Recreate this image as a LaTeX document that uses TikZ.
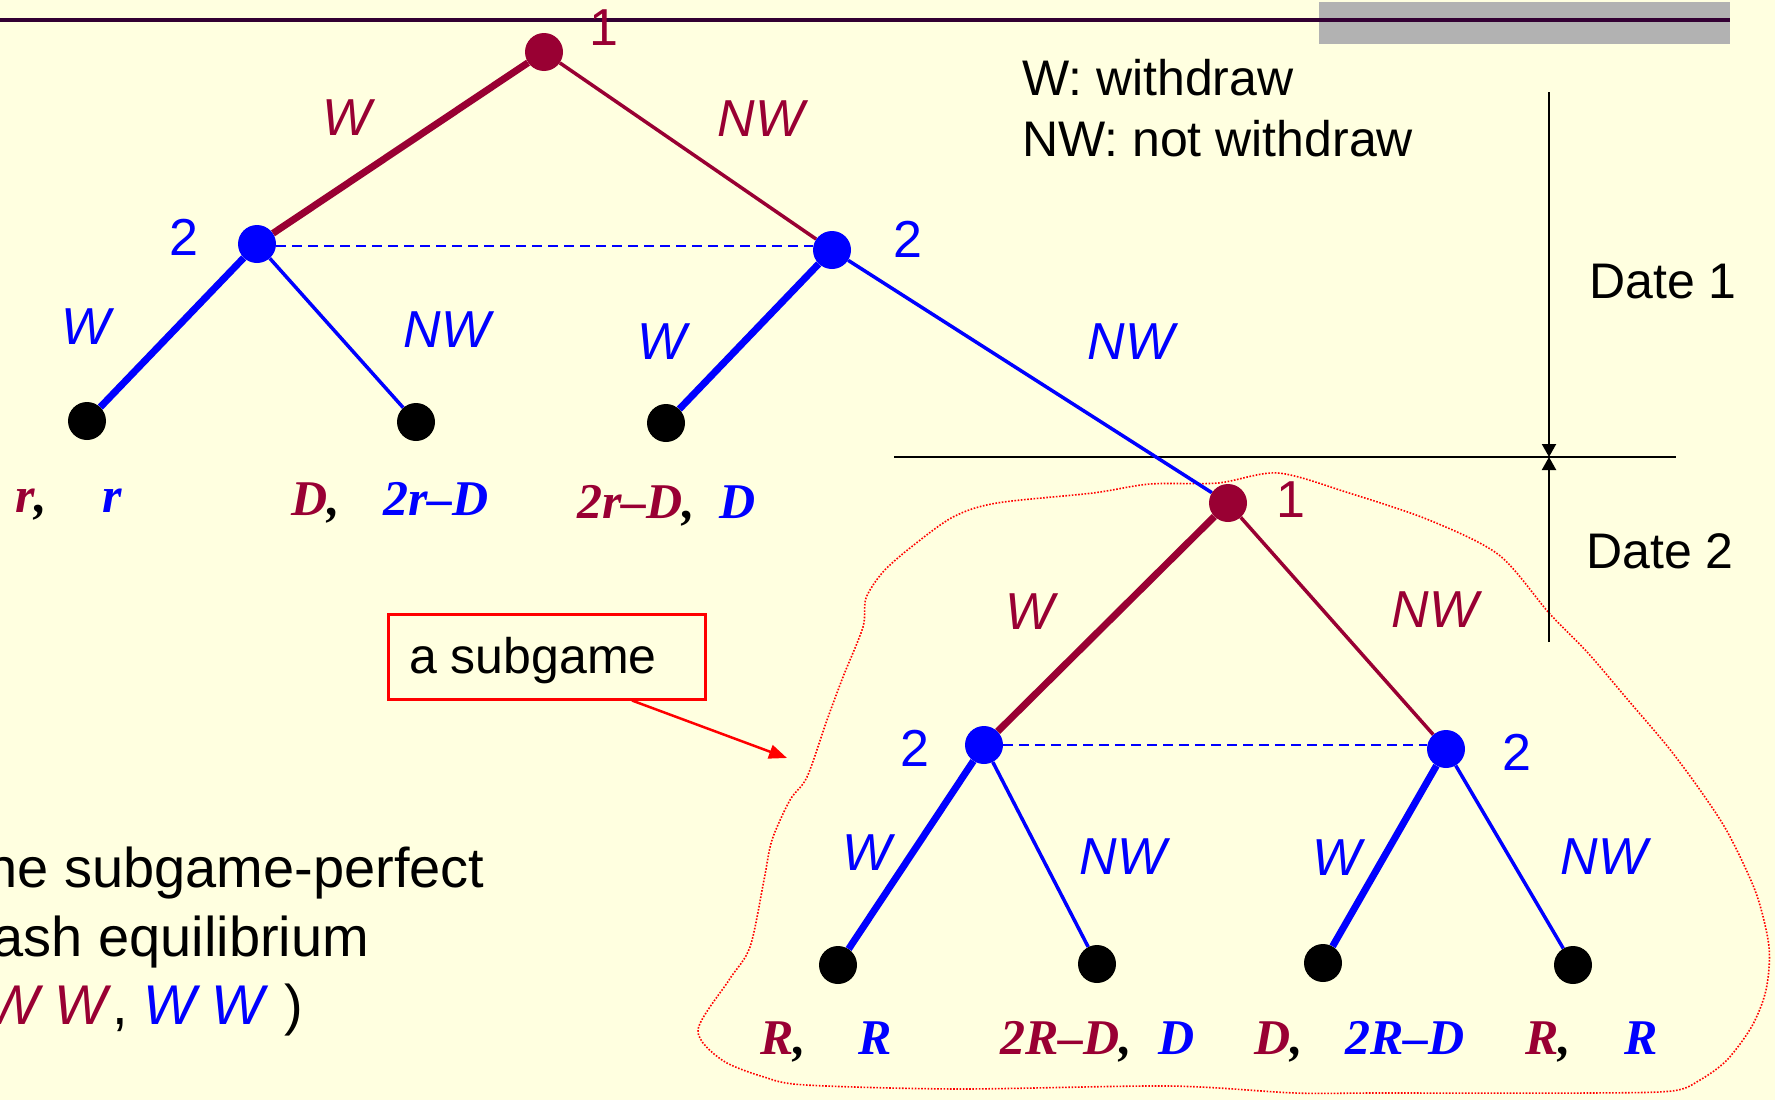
\documentclass[tikz,border=0pt]{standalone}
\usepackage{fontspec}
\setmainfont{Liberation Sans}
\newfontfamily\payfont{Liberation Serif}
\usetikzlibrary{arrows.meta}
\definecolor{bgc}{RGB}{255,255,224}
\definecolor{pone}{RGB}{153,0,51}
\definecolor{ptwo}{RGB}{0,0,255}
\definecolor{topline}{RGB}{51,0,51}
\definecolor{greybar}{RGB}{178,178,178}
\pgfdeclarelayer{bglayer}
\pgfdeclarelayer{edgelayer}
\pgfsetlayers{bglayer,edgelayer,main}
\begin{document}
\begin{tikzpicture}[x=1pt,y=-1pt,
  dec/.style={circle,inner sep=0pt,minimum size=38pt},
  p1node/.style={dec,fill=pone},
  p2node/.style={dec,fill=ptwo},
  leaf/.style={dec,fill=black},
  thickedge/.style={line width=7pt},
  thinedge/.style={line width=3.5pt},
  lab/.style={font=\fontsize{52}{60}\selectfont,inner sep=0pt},
  act/.style={font=\fontsize{52}{60}\selectfont\itshape,inner sep=0pt},
  pay/.style={font=\fontsize{50}{60}\selectfont\payfont\bfseries\itshape,inner sep=0pt,anchor=base west},
  txt/.style={font=\fontsize{50}{60}\selectfont,inner sep=0pt,anchor=base west},
  bigtxt/.style={font=\fontsize{56}{66}\selectfont,inner sep=0pt,anchor=base west},
  infoset/.style={ptwo,line width=2.5pt,dash pattern=on 10pt off 6pt},
  dateline/.style={black,line width=2pt},
  datetip/.style={-{Triangle[length=13pt,width=14pt]}},
]
\useasboundingbox (0,0) rectangle (1775,1100);

% background, grey bar, top rule
\begin{pgfonlayer}{bglayer}
\fill[bgc] (0,0) rectangle (1775,1100);
\fill[greybar] (1319,2) rectangle (1730,44);
\coordinate (tl) at (0,20);
\coordinate (tr) at (1730,20);
\draw[topline,line width=4pt] (tl) -- (tr);
\end{pgfonlayer}

% decision nodes and leaves
\node[p1node] (r1) at (544,52) {};
\node[p2node] (a2) at (257,244) {};
\node[p2node] (b2) at (832,250) {};
\node[leaf] (l1) at (87,421) {};
\node[leaf] (l2) at (416,422) {};
\node[leaf] (l3) at (666,423) {};
\node[p1node] (s1) at (1228,503) {};
\node[p2node] (c2) at (984,745) {};
\node[p2node] (d2) at (1446,749) {};
\node[leaf] (m1) at (838,965) {};
\node[leaf] (m2) at (1097,964) {};
\node[leaf] (m3) at (1323,963) {};
\node[leaf] (m4) at (1573,965) {};

\begin{pgfonlayer}{edgelayer}
% subgame outline
\draw[red,line width=1.6pt,dash pattern=on 1.6pt off 1.6pt]
  plot[smooth cycle,tension=0.5] coordinates {
  (1218,483) (1278,473) (1349,493) (1429,520) (1499,555) (1549,613)
  (1588,653) (1628,700) (1668,747) (1700,790) (1728,833) (1756,893)
  (1769,947) (1766,990) (1752,1026) (1727,1060) (1700,1080) (1672,1091)
  (1588,1093) (1378,1093) (1295,1093) (1169,1086) (959,1089) (806,1085)
  (764,1077) (722,1060) (698,1030) (729,980) (750,947) (764,880)
  (772,840) (790,800) (807,777) (827,720) (843,677) (863,627)
  (866,598) (883,572) (910,548) (953,517) (997,503) (1093,493) (1150,484)};
% date markers
\coordinate (dtop) at (1549,92);
\coordinate (dmid) at (1549,457);
\coordinate (dbot) at (1549,642);
\coordinate (hl) at (894,457);
\coordinate (hr) at (1676,457);
\draw[dateline,datetip] (dtop) -- (dmid);
\draw[dateline,datetip] (dbot) -- (dmid);
\draw[black,line width=2.5pt] (hl) -- (hr);
% edges
\draw[pone,thickedge] (r1) -- (a2);
\draw[pone,thinedge] (r1) -- (b2);
\draw[ptwo,thickedge] (a2) -- (l1);
\draw[ptwo,thinedge] (a2) -- (l2);
\draw[ptwo,thickedge] (b2) -- (l3);
\draw[ptwo,thinedge] (b2) -- (s1);
\draw[pone,thickedge] (s1) -- (c2);
\draw[pone,thinedge] (s1) -- (d2);
\draw[ptwo,thickedge] (c2) -- (m1);
\draw[ptwo,thinedge] (c2) -- (m2);
\draw[ptwo,thickedge] (d2) -- (m3);
\draw[ptwo,thinedge] (d2) -- (m4);
% information sets
\draw[infoset] ([yshift=-2pt]a2.east) -- ([yshift=-2pt]a2.east -| b2.west);
\draw[infoset] (c2.east) -- (c2.east -| d2.west);
\end{pgfonlayer}

% player labels
\node[lab,pone] (lr1) at (604,28) {1};
\node[lab,ptwo] (la2) at (184,237) {2};
\node[lab,ptwo] (lb2) at (908,239) {2};
\node[lab,pone] (ls1) at (1291,500) {1};
\node[lab,ptwo] (lc2) at (915,748) {2};
\node[lab,ptwo] (ld2) at (1517,752) {2};

% action labels
\node[act,pone] (e1) at (347,118) {W};
\node[act,pone] (e2) at (761,119) {NW};
\node[act,ptwo] (e3) at (86,327) {W};
\node[act,ptwo] (e4) at (447,330) {NW};
\node[act,ptwo] (e5) at (662,342) {W};
\node[act,ptwo] (e6) at (1131,342) {NW};
\node[act,pone] (e7) at (1030,612) {W};
\node[act,pone] (e8) at (1435,610) {NW};
\node[act,ptwo] (e9) at (867,853) {W};
\node[act,ptwo] (e10) at (1123,857) {NW};
\node[act,ptwo] (e11) at (1337,858) {W};
\node[act,ptwo] (e12) at (1604,857) {NW};

% payoffs, date 1
\node[pay] (p1a) at (15,512) {\textcolor{pone}{r},};
\node[pay,ptwo] (p1b) at (102,512) {r};
\node[pay] (p2a) at (291,515) {\textcolor{pone}{D},};
\node[pay,ptwo] (p2b) at (383,515) {2r–D};
\node[pay] (p3a) at (577,518) {\textcolor{pone}{2r–D},};
\node[pay,ptwo] (p3b) at (719,518) {D};

% payoffs, date 2
\node[pay] (q1a) at (760,1054) {\textcolor{pone}{R},};
\node[pay,ptwo] (q1b) at (858,1054) {R};
\node[pay] (q2a) at (1000,1054) {\textcolor{pone}{2R–D},};
\node[pay,ptwo] (q2b) at (1158,1054) {D};
\node[pay] (q3a) at (1254,1054) {\textcolor{pone}{D},};
\node[pay,ptwo] (q3b) at (1345,1054) {2R–D};
\node[pay] (q4a) at (1525,1054) {\textcolor{pone}{R},};
\node[pay,ptwo] (q4b) at (1624,1054) {R};

% legend and dates
\node[txt] (leg1) at (1022,95) {W: withdraw};
\node[txt] (leg2) at (1022,156) {NW: not withdraw};
\node[txt] (date1) at (1589,298) {Date 1};
\node[txt] (date2) at (1586,568) {Date 2};

% subgame callout
\node[draw=red,line width=2.5pt,anchor=north west,inner sep=0pt,
      minimum width=317pt,minimum height=85pt] (subbox) at (387,613) {};
\node[txt] (subtxt) at (409,673) {a subgame};
\coordinate (arrend) at (787,758);
\draw[red,line width=2.5pt,-{Triangle[length=18pt,width=14pt]}]
  ([xshift=245pt]subbox.south west) -- (arrend);

% equilibrium text (cut by the left edge)
\begin{scope}
\clip (0,0) rectangle (1775,1100);
\node[bigtxt] (eq1) at (-48,887) {The subgame-perfect};
\node[bigtxt] (eq2) at (-48,956) {Nash equilibrium};
\node[bigtxt] (eq3) at (-48,1024) {( \textcolor{pone}{\textit{W W}}, \textcolor{ptwo}{\textit{W W}} )};
\end{scope}
\end{tikzpicture}
\end{document}
